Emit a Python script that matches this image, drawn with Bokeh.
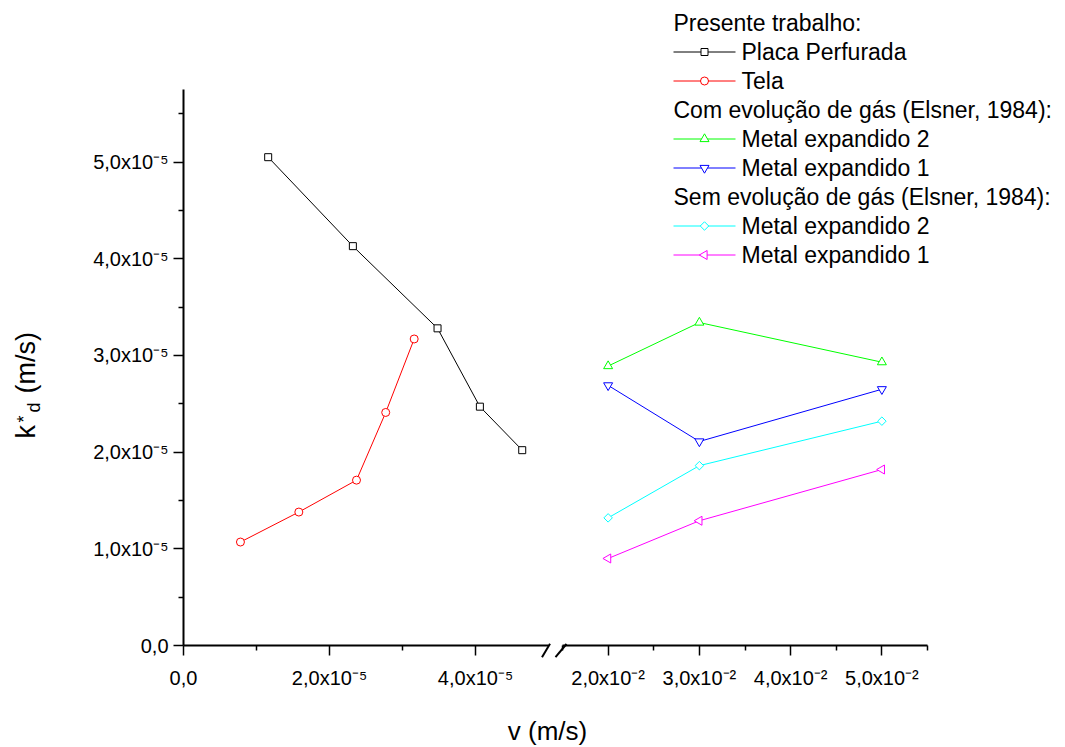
from math import pi
from bokeh.plotting import figure
from bokeh.models import Range1d, FixedTicker, Label, Arrow, ColumnDataSource
from bokeh.layouts import row, column
from bokeh.embed import file_html
from bokeh.resources import INLINE

FONT = "Liberation Sans"

# ---------------- data ----------------
# Presente trabalho
placa_v = [1.16e-5, 2.32e-5, 3.48e-5, 4.06e-5, 4.64e-5]
placa_k = [5.05e-5, 4.13e-5, 3.28e-5, 2.47e-5, 2.02e-5]
tela_v = [0.78e-5, 1.58e-5, 2.37e-5, 2.77e-5, 3.16e-5]
tela_k = [1.07e-5, 1.38e-5, 1.71e-5, 2.41e-5, 3.17e-5]
# Elsner, 1984
elsner_v = [2.0e-2, 3.0e-2, 5.0e-2]
com_me2_k = [2.89e-5, 3.34e-5, 2.93e-5]
com_me1_k = [2.69e-5, 2.11e-5, 2.65e-5]
sem_me2_k = [1.32e-5, 1.86e-5, 2.32e-5]
sem_me1_k = [0.90e-5, 1.29e-5, 1.82e-5]

# ticks
left_x_ticks = [0.0, 2e-5, 4e-5]
left_x_minor = [1e-5, 3e-5]
left_x_labels = ["0,0", "2,0x10\u207b\u2075", "4,0x10\u207b\u2075"]
right_x_ticks = [2e-2, 3e-2, 4e-2, 5e-2]
right_x_minor = [1.5e-2, 2.5e-2, 3.5e-2, 4.5e-2, 5.5e-2]
right_x_labels = ["2,0x10\u207b\u00b2", "3,0x10\u207b\u00b2", "4,0x10\u207b\u00b2", "5,0x10\u207b\u00b2"]
y_ticks = [0.0, 1e-5, 2e-5, 3e-5, 4e-5, 5e-5]
y_minor = [0.5e-5, 1.5e-5, 2.5e-5, 3.5e-5, 4.5e-5, 5.5e-5]
y_labels = ["0,0", "1,0x10\u207b\u2075", "2,0x10\u207b\u2075", "3,0x10\u207b\u2075",
            "4,0x10\u207b\u2075", "5,0x10\u207b\u2075"]

headers = ["Presente trabalho:", "Com evolu\u00e7\u00e3o de g\u00e1s (Elsner, 1984):",
           "Sem evolu\u00e7\u00e3o de g\u00e1s (Elsner, 1984):"]

# axis extents
LEFT_X = (0.0, 5e-5)
RIGHT_X = (1.5e-2, 5.5e-2)
Y_AX = (0.0, 5.75e-5)

# ---------------- layout (page pixels) ----------------
AX_W = 365            # length of each x segment
AX_H = 556            # height of the y axis
Y0_PIX = 645          # page y of k = 0
FRAME_B = 692         # page y of the frames' bottom edge
PANEL_B = 28          # border below the frames
YT_W = 50             # strip holding the y title
PANEL_L = 30          # border left of the left frame
LEFT_ORIGIN = 183     # page x of v = 0
RIGHT_ORIGIN = 562    # page x of v = 1.5e-2
SPLIT = 551           # page x where the two figures meet
TOTAL_W = 1064
TOTAL_H = 746
ROW_H = FRAME_B + PANEL_B
LF_X = YT_W + PANEL_L  # page x of the left frame's left edge

ypp = (Y_AX[1] - Y_AX[0]) / AX_H
lxpp = (LEFT_X[1] - LEFT_X[0]) / AX_W
rxpp = (RIGHT_X[1] - RIGHT_X[0]) / AX_W


def style_axis(ax):
    ax.axis_line_width = 2
    ax.axis_line_color = "black"
    ax.major_tick_out = 10
    ax.major_tick_in = 0
    ax.minor_tick_out = 5
    ax.minor_tick_in = 0
    ax.major_tick_line_width = 1.5
    ax.minor_tick_line_width = 1.5
    ax.major_tick_line_color = "black"
    ax.minor_tick_line_color = "black"
    # tick labels are drawn as text annotations (see below)
    ax.major_label_text_font_size = "0px"
    ax.major_label_text_alpha = 0
    ax.major_label_standoff = 0
    ax.axis_label = None
    ax.fixed_location = 0.0


def bare(p):
    p.outline_line_color = None
    p.grid.visible = False
    p.background_fill_color = "white"
    p.border_fill_color = "white"


yr = Range1d(-(FRAME_B - Y0_PIX) * ypp, Y0_PIX * ypp)
left = figure(title=None, x_range=Range1d(LEFT_X[0] - (LEFT_ORIGIN - LF_X) * lxpp,
                                          LEFT_X[0] + (SPLIT - LEFT_ORIGIN) * lxpp), y_range=yr,
              frame_width=SPLIT - LF_X, frame_height=FRAME_B,
              min_border_left=PANEL_L, min_border_right=0,
              min_border_top=0, min_border_bottom=PANEL_B,
              output_backend="svg", toolbar_location=None)
right = figure(title=None, x_range=Range1d(RIGHT_X[0] - (RIGHT_ORIGIN - SPLIT) * rxpp,
                                           RIGHT_X[0] + (TOTAL_W - RIGHT_ORIGIN) * rxpp), y_range=yr,
               frame_width=TOTAL_W - SPLIT, frame_height=FRAME_B,
               min_border_left=0, min_border_right=0, min_border_top=0, min_border_bottom=PANEL_B,
               y_axis_location=None, output_backend="svg", toolbar_location=None)
bare(left)
bare(right)

for p, ticks, minor, bounds in ((left, left_x_ticks, left_x_minor, LEFT_X),
                                (right, right_x_ticks, right_x_minor, RIGHT_X)):
    a = p.xaxis[0]
    style_axis(a)
    a.ticker = FixedTicker(ticks=ticks, minor_ticks=minor)
    a.bounds = bounds

ay = left.yaxis[0]
style_axis(ay)
ay.ticker = FixedTicker(ticks=y_ticks, minor_ticks=y_minor)
ay.bounds = Y_AX

# x tick labels
XLAB_MID = 677        # page y of their middle
for p, ticks, labels in ((left, left_x_ticks, left_x_labels), (right, right_x_ticks, right_x_labels)):
    for t, s in zip(ticks, labels):
        p.add_layout(Label(x=t, y=FRAME_B - XLAB_MID, x_units="data", y_units="screen",
                           text=s, text_font=FONT, text_font_size="20px", text_color="black",
                           text_align="center", text_baseline="middle"))
# y tick labels
YLAB_RIGHT = 168      # page x of their right edge
for t, s in zip(y_ticks, y_labels):
    left.add_layout(Label(x=YLAB_RIGHT - LF_X, y=t, x_units="screen", y_units="data",
                          text=s, text_font=FONT, text_font_size="20px", text_color="black",
                          text_align="right", text_baseline="middle"))


def series(p, xs, ys, color, marker, size, angle=0.0):
    src = ColumnDataSource(dict(x=xs, y=ys))
    p.line("x", "y", source=src, line_color=color, line_width=1)
    p.scatter("x", "y", source=src, marker=marker, size=size, angle=angle,
              line_color=color, line_width=1, fill_color="white")


styles = [
    ("Placa Perfurada", "black", "square", 7, 0.0),
    ("Tela", "#FF0000", "circle", 8, 0.0),
    ("Metal expandido 2", "#00FF00", "triangle", 9, 0.0),
    ("Metal expandido 1", "#0000FF", "inverted_triangle", 9, 0.0),
    ("Metal expandido 2", "#00FFFF", "square", 6, pi / 4),
    ("Metal expandido 1", "#FF00FF", "triangle", 9, pi / 2),
]
series(left, placa_v, placa_k, *styles[0][1:])
series(left, tela_v, tela_k, *styles[1][1:])
series(right, elsner_v, com_me2_k, *styles[2][1:])
series(right, elsner_v, com_me1_k, *styles[3][1:])
series(right, elsner_v, sem_me2_k, *styles[4][1:])
series(right, elsner_v, sem_me1_k, *styles[5][1:])

# ---------------- legend (drawn in the right figure) ----------------
LEG_X = 673          # page x of the legend's left edge
LEG_TOP = 8          # page y of its top
ROW = 29
GLYPH_W = 62
STANDOFF = 6
item_rows = [1, 2, 4, 5, 7, 8]
header_rows = [0, 3, 6]


def row_center(r):
    return LEG_TOP + ROW * r + ROW / 2


def rdx(page_x):
    return RIGHT_X[0] + (page_x - RIGHT_ORIGIN) * rxpp


def pdy(page_y):
    return (Y0_PIX - page_y) * ypp


leg = ColumnDataSource(dict(
    x0=[rdx(LEG_X)] * len(styles),
    x1=[rdx(LEG_X + GLYPH_W)] * len(styles),
    xm=[rdx(LEG_X + GLYPH_W / 2)] * len(styles),
    y=[pdy(row_center(r)) for r in item_rows],
    color=[s[1] for s in styles],
    marker=[s[2] for s in styles],
    size=[s[3] for s in styles],
    angle=[s[4] for s in styles],
))
right.segment(x0="x0", y0="y", x1="x1", y1="y", source=leg, line_color="color", line_width=1)
right.scatter(x="xm", y="y", source=leg, marker="marker", size="size", angle="angle",
              line_color="color", line_width=1, fill_color="white")

for (name, *_), r in zip(styles, item_rows):
    right.add_layout(Label(x=LEG_X + GLYPH_W + STANDOFF - SPLIT, y=FRAME_B - row_center(r),
                           x_units="screen", y_units="screen",
                           text=name, text_font=FONT, text_font_size="23px", text_color="black",
                           text_align="left", text_baseline="middle"))
for r, h in zip(header_rows, headers):
    right.add_layout(Label(x=LEG_X - SPLIT, y=FRAME_B - row_center(r),
                           x_units="screen", y_units="screen",
                           text=h, text_font=FONT, text_font_size="23px", text_color="black",
                           text_align="left", text_baseline="middle"))

# ---------------- axis break marks ----------------
left.add_layout(Arrow(end=None, x_start=541.5 - LF_X, y_start=FRAME_B - 656.7,
                      x_end=549.5 - LF_X, y_end=FRAME_B - 643.3,
                      start_units="screen", end_units="screen", line_width=2, line_color="black"))
right.add_layout(Arrow(end=None, x_start=555 - SPLIT, y_start=FRAME_B - 656.7,
                       x_end=566 - SPLIT, y_end=FRAME_B - 643.5,
                       start_units="screen", end_units="screen", line_width=2, line_color="black"))

# ---------------- y title strip ----------------
ytf = figure(title=None, x_range=Range1d(0, 1), y_range=Range1d(0, 1),
             frame_width=YT_W, frame_height=FRAME_B,
             min_border_left=0, min_border_right=0, min_border_top=0, min_border_bottom=PANEL_B,
             x_axis_location=None, y_axis_location=None,
             output_backend="svg", toolbar_location=None)
bare(ytf)


def ylab(text, page_x, page_y, size):
    # page_x is the x of the rotated text's middle line
    ytf.add_layout(Label(x=page_x, y=FRAME_B - page_y, x_units="screen", y_units="screen",
                         text=text, angle=pi / 2, text_font=FONT, text_font_size=size,
                         text_color="black", text_align="left", text_baseline="middle"))


ylab("k", 25, 438, "27px")
ylab("*", 23, 422, "18px")
ylab("d", 33, 412, "18px")
ylab("(m/s)", 25, 393, "27px")

# ---------------- x title strip ----------------
STRIP_H = TOTAL_H - ROW_H
title_fig = figure(title=None, x_range=Range1d(0, 1), y_range=Range1d(0, 1),
                   frame_width=TOTAL_W, frame_height=STRIP_H,
                   min_border_left=0, min_border_right=0, min_border_top=0, min_border_bottom=0,
                   x_axis_location=None, y_axis_location=None,
                   output_backend="svg", toolbar_location=None)
bare(title_fig)
title_fig.add_layout(Label(x=547, y=TOTAL_H - 730, x_units="screen", y_units="screen",
                           text="v (m/s)", text_font=FONT, text_font_size="26px",
                           text_color="black", text_align="center", text_baseline="middle"))

layout = column(row(ytf, left, right, spacing=0), title_fig, spacing=0)
open("out.html", "w").write(file_html(layout, INLINE))
